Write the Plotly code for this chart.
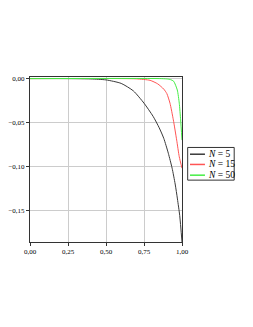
import plotly.graph_objects as go

black_x = [0, 0.2, 0.4, 0.5, 0.6, 0.68, 0.75, 0.81, 0.85, 0.88, 0.91, 0.935, 0.955, 0.97, 0.985, 1.0]
black_y = [0, 0, -0.0004, -0.0015, -0.0055, -0.014, -0.028, -0.043, -0.056, -0.068, -0.085, -0.102, -0.12, -0.137, -0.156, -0.186]

red_x = [0, 0.6, 0.7, 0.79, 0.84, 0.88, 0.9, 0.921, 0.943, 0.965, 0.982, 1.0]
red_y = [0, 0, -0.0003, -0.002, -0.006, -0.012, -0.017, -0.028, -0.047, -0.07, -0.089, -0.102]

green_x = [0, 0.85, 0.9, 0.925, 0.945, 0.969, 0.982, 0.991, 1.0]
green_y = [0, 0, -0.0004, -0.0012, -0.003, -0.013, -0.028, -0.047, -0.07]

names = ["<i>N</i> = 5", "<i>N</i> = 15", "<i>N</i> = 50"]
colors = ["#3a3a3a", "#ff5555", "#44ee44"]
xtick_vals = [0, 0.25, 0.5, 0.75, 1.0]
xtick_text = ["0,00", "0,25", "0,50", "0,75", "1,00"]
ytick_vals = [0, -0.05, -0.10, -0.15]
ytick_text = ["0,00", "\u22120,05", "\u22120,10", "\u22120,15"]

fig = go.Figure()
for x, y, n, c in zip([black_x, red_x, green_x], [black_y, red_y, green_y], names, colors):
    fig.add_trace(go.Scatter(x=x, y=y, mode="lines", name=n, showlegend=False,
                             line=dict(color=c, width=1, shape="spline", smoothing=0.6)))

# hand-built legend box
fig.add_shape(type="rect", xref="paper", yref="paper", x0=1.0374, x1=1.3434, y0=0.375, y1=0.573,
              line=dict(color="#333", width=1), fillcolor="white", layer="above")
rows = [0.532, 0.470, 0.405]
for n, c, ry in zip(names, colors, rows):
    fig.add_shape(type="line", xref="paper", yref="paper", x0=1.0525, x1=1.151, y0=ry, y1=ry,
                  line=dict(color=c, width=1.5), layer="above")
    fig.add_annotation(xref="paper", yref="paper", x=1.16, y=ry, text=n, showarrow=False,
                       xanchor="left", yanchor="middle", font=dict(size=9.5, family="Liberation Serif"))

fig.update_layout(
    width=237, height=311,
    margin=dict(l=22, r=63, t=69, b=77, autoexpand=False),
    paper_bgcolor="white", plot_bgcolor="white",
    font=dict(family="Liberation Serif", color="black", size=7),
    showlegend=False,
    xaxis=dict(range=[0, 1], tickvals=xtick_vals, ticktext=xtick_text,
               showgrid=True, gridcolor="#cccccc", gridwidth=1,
               showline=True, linecolor="#333", linewidth=1, mirror=True,
               ticks="outside", ticklen=3, tickcolor="#333", zeroline=False),
    yaxis=dict(range=[-0.186, 0.0018], tickvals=ytick_vals, ticktext=ytick_text,
               showgrid=True, gridcolor="#cccccc", gridwidth=1,
               showline=True, linecolor="#333", linewidth=1, mirror=True,
               ticks="outside", ticklen=3, tickcolor="#333", zeroline=False),
)

fig.write_html("out.html")
